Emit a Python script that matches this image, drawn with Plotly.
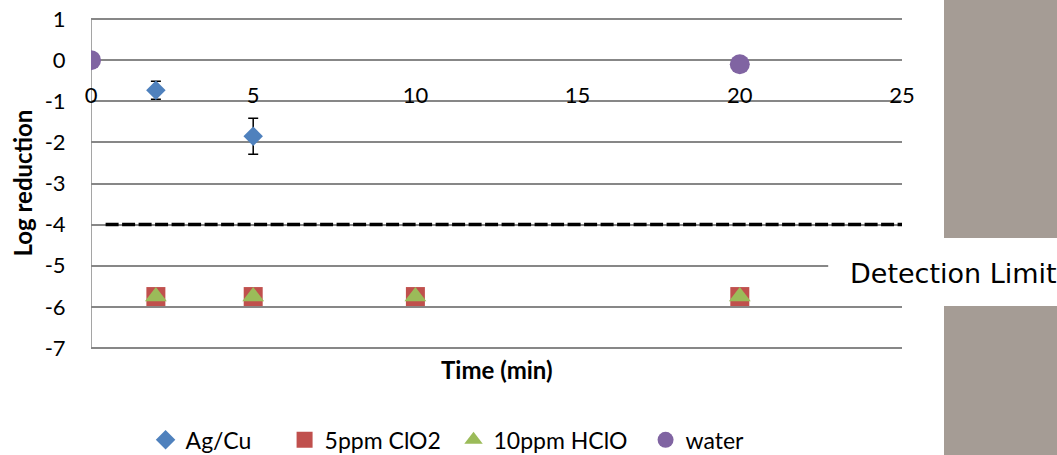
import plotly.graph_objects as go

# Data
agcu_x = [2, 5]
agcu_y = [-0.73, -1.85]
agcu_err = [0.22, 0.44]
clo2_x = [2, 5, 10, 20]
clo2_y = [-5.75, -5.75, -5.75, -5.75]
hclo_x = [2, 5, 10, 20]
hclo_y = [-5.75, -5.75, -5.75, -5.75]
water_x = [0, 20]
water_y = [0, -0.1]
limit_x = [0.45, 25]
limit_y = [-4, -4]
x_ticks = [0, 5, 10, 15, 20, 25]
y_ticks = [1, 0, -1, -2, -3, -4, -5, -6, -7]

FONT = "Lato, Calibri, Carlito, sans-serif"
GRID = "#878787"

fig = go.Figure()
fig.add_trace(go.Scatter(x=limit_x, y=limit_y, mode="lines", showlegend=False,
                         line=dict(color="black", width=3.5, dash="13px,3.5px"), hoverinfo="skip"))
fig.add_trace(go.Scatter(x=agcu_x, y=agcu_y, mode="markers", name="Ag/Cu", legend="legend",
                         marker=dict(symbol="diamond", size=15, color="#4F81BD"),
                         error_y=dict(type="data", array=agcu_err, color="black", thickness=1.5, width=5)))
fig.add_trace(go.Scatter(x=clo2_x, y=clo2_y, mode="markers", name="5ppm ClO2", legend="legend2",
                         marker=dict(symbol="square", size=19, color="#C0504D")))
fig.add_trace(go.Scatter(x=hclo_x, y=hclo_y, mode="markers", name="10ppm HClO", legend="legend3",
                         marker=dict(symbol="triangle-up", size=19, color="#9BBB59")))
fig.add_trace(go.Scatter(x=water_x, y=water_y, mode="markers", name="water", legend="legend4",
                         marker=dict(symbol="circle", size=20, color="#8064A2")))

shapes = [
    dict(type="rect", xref="paper", yref="paper", x0=1.0518, x1=1.25, y0=0.336, y1=1.1,
         fillcolor="#A59C95", line=dict(width=0), layer="above"),
    dict(type="rect", xref="paper", yref="paper", x0=1.0518, x1=1.25, y0=-0.4, y1=0.132,
         fillcolor="#A59C95", line=dict(width=0), layer="above"),
    dict(type="rect", xref="paper", yref="paper", x0=0.909, x1=1.0518, y0=0.135, y1=0.33,
         fillcolor="white", line=dict(width=0), layer="above"),
]

def leg(x):
    return dict(orientation="h", x=x, xanchor="left", y=-0.27, yanchor="middle",
                font=dict(family=FONT, size=23), itemwidth=30, bgcolor="rgba(0,0,0,0)")

fig.update_layout(
    width=1057, height=455,
    margin=dict(l=91, r=155, t=17, b=105, autoexpand=False),
    paper_bgcolor="white", plot_bgcolor="white",
    font=dict(family=FONT, size=22, color="black"),
    shapes=shapes,
    showlegend=True,
    legend=leg(0.0673), legend2=leg(0.2387), legend3=leg(0.447), legend4=leg(0.6838),
    xaxis=dict(range=[0, 25], tickvals=x_ticks, ticktext=[str(v) for v in x_ticks],
               showgrid=False, zeroline=False, showline=False,
               anchor="free", position=0.8704, side="bottom",
               ticks="outside", ticklen=15, tickcolor="rgba(0,0,0,0)",
               ticklabeloverflow="allow",
               tickfont=dict(family=FONT, size=22)),
    yaxis=dict(range=[-7.05, 1.05], tickvals=y_ticks, ticktext=[str(v) for v in y_ticks],
               showgrid=True, gridcolor=GRID, gridwidth=1.5, zeroline=False,
               showline=False,
               ticks="outside", ticklen=20, tickcolor="rgba(0,0,0,0)",
               ticklabeloverflow="allow",
               tickfont=dict(family=FONT, size=22)),
    annotations=[
        dict(text="<b>Time (min)</b>", xref="paper", yref="paper", x=0.5, y=-0.06,
             xanchor="center", yanchor="middle", showarrow=False, font=dict(family=FONT, size=24)),
        dict(text="<b>Log reduction</b>", xref="paper", yref="paper", x=-0.085, y=0.5,
             xanchor="center", yanchor="middle", textangle=-90, showarrow=False,
             font=dict(family=FONT, size=24)),
        dict(text="Detection Limit", xref="paper", yref="paper", x=0.933, y=0.231,
             xanchor="left", yanchor="middle", showarrow=False,
             font=dict(family="DejaVu Sans, Verdana, sans-serif", size=27)),
    ],
)
# vertical axis line spanning the tick range (x = 0, from y = -7 to 1)
fig.add_shape(type="line", xref="x", yref="y", x0=x_ticks[0], x1=x_ticks[0],
              y0=y_ticks[-1], y1=y_ticks[0], line=dict(color=GRID, width=1.5), layer="below")

# remove the default 8px page margin so the figure fills the window exactly
fig.write_html("out.html", config={"displayModeBar": False},
               post_script="document.body.style.margin='0';document.body.style.overflow='hidden';")
